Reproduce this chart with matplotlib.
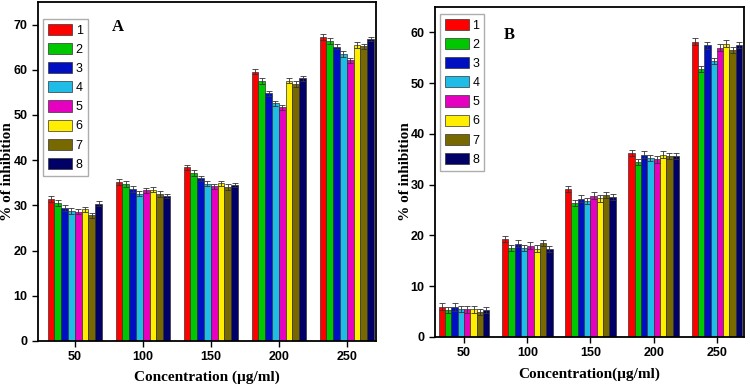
import numpy as np
import matplotlib
matplotlib.use('Agg')
import matplotlib.pyplot as plt

plt.rcParams['font.family'] = ['Liberation Sans', 'DejaVu Sans']

# 数据
conc = ['50', '100', '150', '200', '250']
series = ['1', '2', '3', '4', '5', '6', '7', '8']
colors = ['#ff0000', '#00c800', '#0010c0', '#20bce8', '#e600c0', '#ffee00', '#786800', '#000066']

vals_a = np.array([
    [31.4, 35.2, 38.4, 59.6, 67.3],
    [30.5, 34.7, 37.2, 57.5, 66.4],
    [29.4, 33.6, 36.0, 54.8, 65.1],
    [28.8, 32.6, 34.8, 52.6, 63.5],
    [28.6, 33.3, 34.2, 51.7, 62.1],
    [29.1, 33.5, 34.9, 57.6, 65.5],
    [27.8, 32.5, 34.1, 56.9, 65.2],
    [30.4, 32.1, 34.5, 58.1, 66.8],
])
err_a = [0.6, 0.6, 0.6, 0.6, 0.5, 0.6, 0.6, 0.5]

vals_b = np.array([
    [6.0, 19.3, 29.2, 36.3, 58.2],
    [5.3, 17.6, 26.4, 34.5, 52.8],
    [5.9, 18.4, 27.2, 35.9, 57.5],
    [5.6, 17.5, 26.8, 35.3, 54.3],
    [5.5, 18.0, 27.8, 35.0, 57.0],
    [5.5, 17.4, 27.3, 35.9, 57.8],
    [5.0, 18.6, 28.0, 35.6, 56.5],
    [5.3, 17.3, 27.5, 35.7, 57.5],
])
err_b = [0.6, 0.6, 0.7, 0.6, 0.7, 0.7, 0.6, 0.6]

fig = plt.figure(figsize=(7.5, 3.89), dpi=100)
ax_a = fig.add_axes([0.0507, 0.1234, 0.4506, 0.8715])
ax_b = fig.add_axes([0.580, 0.1337, 0.412, 0.8483])

serif = ['Liberation Serif', 'DejaVu Serif']


def draw_panel(ax, vals, errs, ylim, yticks, xlim, tag, tag_xy, leg_anchor, xlabel, xpad):
    x = np.arange(len(conc))
    w = 0.1
    for i, name in enumerate(series):
        ax.bar(x + (i - 3.5) * w, vals[i], width=w, color=colors[i],
               edgecolor='#333333', linewidth=0.5, label=name,
               yerr=errs[i], error_kw=dict(ecolor='#333333', elinewidth=0.6,
                                           capsize=2, capthick=0.6))
    ax.set_xlim(*xlim)
    ax.set_ylim(*ylim)
    ax.set_xticks(x)
    ax.set_xticklabels(conc)
    ax.set_yticks(yticks)
    ax.tick_params(direction='out', length=4, width=1.0, labelsize=9)
    for lab in ax.get_xticklabels() + ax.get_yticklabels():
        lab.set_fontweight('bold')
    for sp in ax.spines.values():
        sp.set_linewidth(1.3)
    ax.set_xlabel(xlabel, family=serif, fontweight='bold', fontsize=11, labelpad=xpad)
    ax.set_ylabel('% of inhibition', family=serif, fontweight='bold', fontsize=11)
    ax.text(tag_xy[0], tag_xy[1], tag, transform=ax.transAxes, family=serif,
            fontweight='bold', fontsize=12, ha='center', va='center')
    leg = ax.legend(loc='upper left', bbox_to_anchor=leg_anchor, borderaxespad=0,
                    fancybox=False, edgecolor='#999999', fontsize=9,
                    handlelength=1.9, handleheight=1.0, labelspacing=0.5,
                    handletextpad=0.3, borderpad=0.4)
    leg.get_frame().set_linewidth(1.0)


draw_panel(ax_a, vals_a, err_a, (0, 75), range(0, 80, 10), (-0.54, 4.43),
           'A', (0.235, 0.925), (0.015, 0.95), 'Concentration (\u00b5g/ml)', 5)
draw_panel(ax_b, vals_b, err_b, (0, 65), range(0, 70, 10), (-0.46, 4.43),
           'B', (0.24, 0.915), (0.016, 0.979), 'Concentration(\u00b5g/ml)', 6)

ax_a.yaxis.set_label_coords(-0.071, 0.5)
ax_b.yaxis.set_label_coords(-0.075, 0.5)

fig.savefig('out.png', dpi=100)
